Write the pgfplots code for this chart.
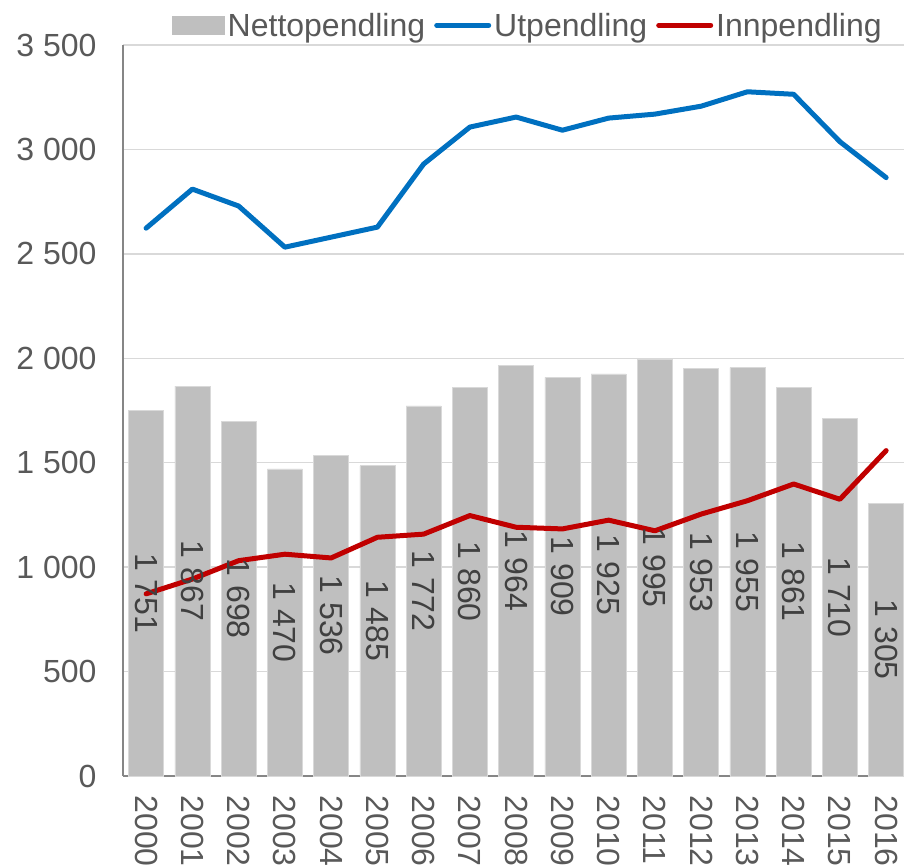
\documentclass[border=0pt]{standalone}
\usepackage{fontspec}
\setmainfont{Liberation Sans}
\usepackage{pgfplots}
\usepackage{pgfplotstable}
\pgfplotsset{compat=1.18}
\definecolor{barfill}{HTML}{BFBFBF}
\definecolor{barline}{HTML}{D9D9D9}
\definecolor{utblue}{HTML}{0070C0}
\definecolor{innred}{HTML}{C00000}
\definecolor{ticktext}{HTML}{595959}
\definecolor{labeltext}{HTML}{404040}
\definecolor{gridc}{HTML}{D9D9D9}
\definecolor{axisc}{HTML}{868686}
\newcommand{\bigfont}{\fontsize{32}{38}\selectfont}

\pgfplotstableread{
year netto ut inn
0 1751 2623 872
1 1867 2810 943
2 1698 2729 1031
3 1470 2532 1062
4 1536 2580 1044
5 1485 2628 1143
6 1772 2930 1158
7 1860 3107 1247
8 1964 3155 1191
9 1909 3092 1183
10 1925 3150 1225
11 1995 3169 1174
12 1953 3207 1254
13 1955 3276 1318
14 1861 3264 1398
15 1710 3037 1325
16 1305 2865 1558
}\data

\begin{document}
\begin{tikzpicture}
\useasboundingbox (0,0) rectangle (904pt,867pt);
\begin{axis}[
  at={(123pt,91pt)}, anchor=south west,
  scale only axis, width=781pt, height=731pt,
  xmin=-0.5, xmax=16.386, ymin=0, ymax=3500,
  ytick={0,500,...,3500},
  xtick={0,...,16},
  xticklabels={2000,2001,2002,2003,2004,2005,2006,2007,2008,2009,2010,2011,2012,2013,2014,2015,2016},
  axis x line*=bottom, axis y line*=left,
  axis line style={-, draw=axisc, line width=1.5pt},
  major tick length=0pt,
  ymajorgrids, grid style={draw=gridc, line width=1.5pt},
  tick label style={font=\bigfont, text=ticktext},
  /pgf/number format/1000 sep={\ },
  /pgf/number format/assume math mode=true,
  yticklabel style={xshift=-23pt},
  xticklabel style={rotate=-90, anchor=west, xshift=16pt},
  legend style={at={(0.519,1.027)}, anchor=center, draw=none, fill=none,
    font=\bigfont, text=ticktext, inner sep=0pt, nodes={inner sep=3pt},
    /tikz/every even column/.append style={column sep=6pt}},
  legend columns=-1,
]
\addplot[ybar, bar width=35pt, fill=barfill, draw=barline, line width=0.75pt,
  legend image code/.code={\fill[barfill] (0pt,-9pt) rectangle (52pt,9pt);}]
  table[x=year, y=netto]{\data};
\addplot[forget plot, draw=none, mark=none, nodes near coords, point meta=explicit,
  nodes near coords style={rotate=-90, anchor=center, font=\bigfont, text=labeltext}]
  table[x=year, y expr=\thisrow{netto}/2, meta=netto]{\data};
\addplot[utblue, line width=5pt, line join=round, line cap=round, mark=none,
  legend image code/.code={\draw[utblue, line width=5pt, line cap=round] (0pt,0pt) -- (52pt,0pt);}]
  table[x=year, y=ut]{\data};
\addplot[innred, line width=5pt, line join=round, line cap=round, mark=none,
  legend image code/.code={\draw[innred, line width=5pt, line cap=round] (0pt,0pt) -- (52pt,0pt);}]
  table[x=year, y=inn]{\data};
\legend{Nettopendling, Utpendling, Innpendling}
\end{axis}
\end{tikzpicture}
\end{document}
